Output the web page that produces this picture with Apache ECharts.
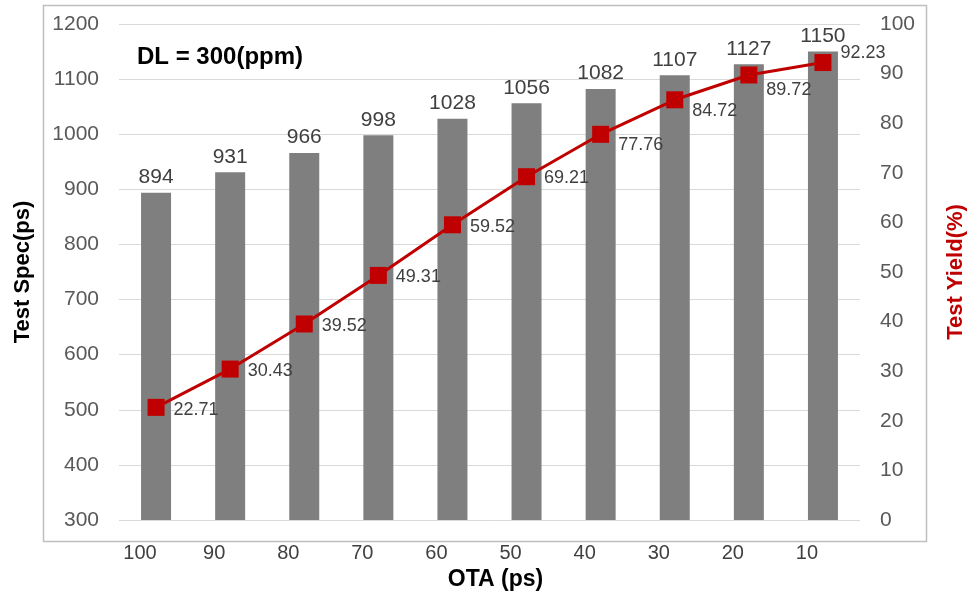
<!DOCTYPE html>
<html>
<head>
<meta charset="utf-8">
<script src="https://cdn.jsdelivr.net/npm/echarts@6/dist/echarts.min.js"></script>
<style>html,body{margin:0;padding:0;background:#fff;}#c{width:976px;height:592px;}</style>
</head>
<body>
<div id="c"></div>
<script>
const categories = ['100','90','80','70','60','50','40','30','20','10'];
const testSpec = [894, 931, 966, 998, 1028, 1056, 1082, 1107, 1127, 1150];
const testYield = [22.71, 30.43, 39.52, 49.31, 59.52, 69.21, 77.76, 84.72, 89.72, 92.23];
const titleText = 'DL = 300(ppm)';

const FONT = 'Liberation Sans, Arial, sans-serif';
// per-point label vertical nudges (presentation only)
const yieldLabelDy = [3, 2, 2, 2, 2, 1, 11, 11, 15, -10];

const chart = echarts.init(document.getElementById('c'), null, {renderer: 'canvas'});
chart.setOption({
  backgroundColor: '#fff',
  animation: false,
  textStyle: {fontFamily: FONT},
  graphic: [{
    type: 'rect', z: -1, silent: true,
    shape: {x: 43.5, y: 5.5, width: 883, height: 536},
    style: {fill: 'none', stroke: '#bfbfbf', lineWidth: 1.5}
  }],
  title: {
    text: titleText, left: 132, top: 40,
    textStyle: {fontFamily: FONT, fontSize: 24, fontWeight: 'bold', color: '#000'}
  },
  grid: {left: 119, right: 116, top: 24, bottom: 72, containLabel: false, outerBoundsMode: 'none'},
  xAxis: {
    type: 'category', data: categories,
    name: 'OTA (ps)', nameLocation: 'middle', nameGap: 43,
    nameTextStyle: {fontFamily: FONT, fontSize: 23, fontWeight: 'bold', color: '#000', padding: [0, 0, 0, 12]},
    axisLine: {show: false}, axisTick: {show: false},
    axisLabel: {fontFamily: FONT, fontSize: 20, color: '#404040', margin: 23, padding: [0, 32, 0, 0]}
  },
  yAxis: [{
    type: 'value', min: 300, max: 1200, interval: 100,
    name: 'Test Spec(ps)', nameLocation: 'middle', nameGap: 85, nameRotate: 90,
    nameTextStyle: {fontFamily: FONT, fontSize: 22, fontWeight: 'bold', color: '#000'},
    axisLine: {show: false}, axisTick: {show: false},
    axisLabel: {fontFamily: FONT, fontSize: 21, color: '#595959', margin: 20, formatter: v => String(v)},
    splitLine: {lineStyle: {color: '#d9d9d9', width: 1}}
  }, {
    type: 'value', min: 0, max: 100, interval: 10,
    name: 'Test Yield(%)', nameLocation: 'middle', nameGap: 85, nameRotate: 90,
    nameTextStyle: {fontFamily: FONT, fontSize: 22, fontWeight: 'bold', color: '#c00000'},
    axisLine: {show: false}, axisTick: {show: false},
    axisLabel: {fontFamily: FONT, fontSize: 21, color: '#595959', margin: 20, formatter: v => String(v)},
    splitLine: {show: false}
  }],
  series: [{
    type: 'bar', data: testSpec, barWidth: 30,
    itemStyle: {color: '#7f7f7f'},
    label: {show: true, position: 'top', distance: 5, fontFamily: FONT, fontSize: 21, color: '#404040'}
  }, {
    type: 'line', yAxisIndex: 1,
    data: testYield.map((v, i) => ({value: v, label: {offset: [0, yieldLabelDy[i]]}})),
    symbol: 'rect', symbolSize: 17,
    lineStyle: {color: '#c00000', width: 3},
    itemStyle: {color: '#c00000'},
    label: {show: true, position: 'right', distance: 9, fontFamily: FONT, fontSize: 18, color: '#404040'}
  }]
});
</script>
</body>
</html>
